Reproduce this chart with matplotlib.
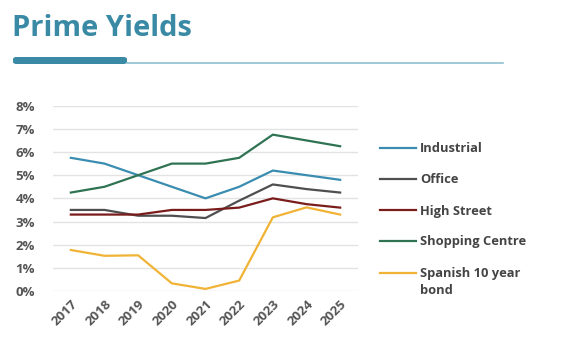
import matplotlib.pyplot as plt
from matplotlib.patches import FancyBboxPatch
from matplotlib.lines import Line2D

years = ["2017", "2018", "2019", "2020", "2021", "2022", "2023", "2024", "2025"]
industrial = [5.75, 5.5, 5.0, 4.5, 4.0, 4.5, 5.2, 5.0, 4.8]
office = [3.5, 3.5, 3.25, 3.25, 3.15, 3.9, 4.6, 4.4, 4.25]
high_street = [3.3, 3.3, 3.3, 3.5, 3.5, 3.6, 4.0, 3.75, 3.6]
shopping = [4.25, 4.5, 5.0, 5.5, 5.5, 5.75, 6.75, 6.5, 6.25]
bond = [1.77, 1.52, 1.54, 0.33, 0.09, 0.45, 3.18, 3.61, 3.3]

series = [
    ("Industrial", industrial, "#3a8db0"),
    ("Office", office, "#4f4f4f"),
    ("High Street", high_street, "#7a1c1c"),
    ("Shopping Centre", shopping, "#2f7352"),
    ("Spanish 10 year\nbond", bond, "#f0b335"),
]

plt.rcParams['font.family'] = ['Open Sans', 'DejaVu Sans']
W, H = 566, 350
fig = plt.figure(figsize=(W / 100, H / 100), dpi=100)
ax = fig.add_axes([53 / W, 59 / H, 305 / W, 185.3 / H])

x = list(range(len(years)))
for name, vals, col in series:
    ax.plot(x, vals, color=col, lw=1.6, label=name)

ax.set_xlim(-0.53, len(years) - 1 + 0.53)
ax.set_ylim(0, 8)
ax.set_yticks(range(0, 9))
ax.set_yticklabels([f"{i}%" for i in range(0, 9)])
ax.set_xticks(x)
ax.set_xticklabels(years, rotation=45, ha="right", rotation_mode="anchor")
ax.grid(axis="y", color="#e3e3e3", lw=1)
ax.set_axisbelow(True)
for s in ax.spines.values():
    s.set_visible(False)
ax.tick_params(length=0, labelsize=9.5, labelcolor="#555555")
ax.tick_params(axis="x", pad=5)
ax.tick_params(axis="y", pad=13)
for lab in ax.get_xticklabels() + ax.get_yticklabels():
    lab.set_fontweight("bold")

# legend entries (positions in pixels)
leg_y = [147.5, 178.5, 210, 241, 272.5]
for (name, _, col), yy in zip(series, leg_y):
    fy = 1 - yy / H
    fig.add_artist(Line2D([380 / W, 416 / W], [fy, fy], color=col, lw=1.6,
                          transform=fig.transFigure))
    for i, line in enumerate(name.split("\n")):
        fig.text(420 / W, 1 - (yy + 4.5 + 17 * i) / H, line, fontsize=9.3, fontweight="bold",
                 color="#444444", ha="left", va="baseline")

# title
fig.text(12 / W, 1 - 36 / H, "Prime Yields", fontsize=21, fontweight="bold", color="#3a8aa5",
         va="baseline", ha="left")
fig.add_artist(Line2D([127 / W, 503 / W], [1 - 63 / H, 1 - 63 / H], color="#8fc0d0", lw=1.2,
                      transform=fig.transFigure))
fig.add_artist(FancyBboxPatch((13 / W, 1 - 64 / H), 114 / W, 7 / H,
                              boxstyle="round,pad=0,rounding_size=0.006",
                              transform=fig.transFigure, color="#3a8aa5", lw=0))

fig.savefig("out.png", dpi=100)
